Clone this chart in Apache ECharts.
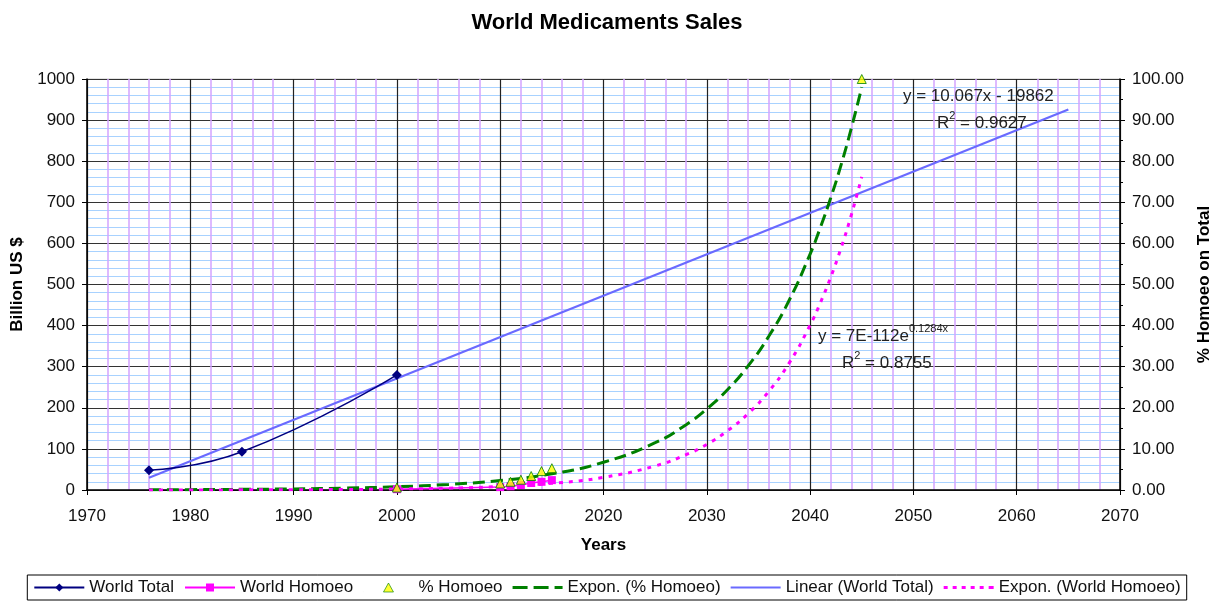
<!DOCTYPE html>
<html><head><meta charset="utf-8">
<script src="https://cdn.jsdelivr.net/npm/echarts@6/dist/echarts.min.js"></script>
<style>html,body{margin:0;padding:0;background:#fff}#c{width:1214px;height:604px}</style>
</head><body><div id="c"></div>
<script>
// ---- data ----
const worldTotalYears = [1976, 1985, 2000];
const worldTotalValues = [48, 93, 280];

const homoeoYears = [2000, 2010, 2011, 2012, 2013, 2014, 2015];
const homoeoValues = [2, 7, 9, 12, 17, 20, 24];

const pctYears = [2000, 2010, 2011, 2012, 2013, 2014, 2015, 2045];
const pctValues = [0.6, 1.6, 2.0, 2.5, 3.4, 4.6, 5.3, 100];

const linearYears = [1976, 2065];
const linearValues = [30, 926];

const expPctYears = [1976, 1980, 1985, 1990, 1995, 2000, 2005, 2010, 2015, 2020, 2025, 2028, 2030, 2032, 2034, 2036, 2038, 2040, 2041, 2042, 2043, 2044, 2045];
const expPctValues = [0.06, 0.09, 0.16, 0.27, 0.46, 0.79, 1.36, 2.3, 3.95, 6.75, 11.5, 15.9, 19.7, 24.4, 30.2, 37.4, 46.3, 57.4, 63.9, 71.1, 79.1, 88.1, 98];

const expHomYears = [1976, 1980, 1985, 1990, 1995, 2000, 2005, 2010, 2015, 2020, 2025, 2028, 2030, 2032, 2034, 2036, 2038, 2040, 2041, 2042, 2043, 2044, 2045];
const expHomValues = [0.11, 0.18, 0.34, 0.65, 1.2, 2.4, 4.5, 8.5, 16.2, 30.8, 58.5, 86, 111, 144, 186, 240, 310, 401, 456, 518, 589, 670, 762];

const leftTicks = {min: 0, max: 1000, interval: 100};
const rightTicks = {min: 0, max: 100, interval: 10};
const xTicks = {min: 1970, max: 2070, interval: 10};

const zip = (a, b) => a.map((v, i) => [v, b[i]]);
const FONT = 'Liberation Sans, Arial, sans-serif';

// legend key shapes
const ICON_DASH = 'path://M0,0h15v3h-15zM21,0h15v3h-15zM42,0h8v3h-8z';
const ICON_DOT = 'path://M0,0h4v3h-4zM9,0h4v3h-4zM18,0h4v3h-4zM27,0h4v3h-4zM36,0h4v3h-4zM45,0h5v3h-5z';
const ICON_LINE = 'path://M0,0h50v2h-50z';
const ICON_TRI = 'path://M0,10L0.01,10L0,9.99ZM25,1L30,10L20,10ZM50,10L49.99,10L50,9.99Z';

const chart = echarts.init(document.getElementById('c'), null, {renderer: 'canvas'});
chart.setOption({
  animation: false,
  backgroundColor: '#fff',
  textStyle: {fontFamily: FONT},
  title: {
    text: 'World Medicaments Sales', left: 'center', top: 7,
    textStyle: {fontFamily: FONT, fontSize: 22, fontWeight: 'bold', color: '#000'}
  },
  grid: {left: 87, right: 94, top: 79, bottom: 114, show: true, borderColor: '#c8c8c8', borderWidth: 1,
         containLabel: false, outerBoundsMode: 'none'},
  legend: {
    bottom: 4, left: 'center',
    data: [
      {name: 'World Total'},
      {name: 'World Homoeo'},
      {name: '% Homoeo', icon: ICON_TRI, itemStyle: {color: '#ffff00', borderColor: '#008000', borderWidth: 0.8}},
      {name: 'Expon. (% Homoeo)', icon: ICON_DASH, itemStyle: {color: '#008000', borderWidth: 0}},
      {name: 'Linear (World Total)', icon: ICON_LINE, itemStyle: {color: '#6a6aff', borderWidth: 0}},
      {name: 'Expon. (World Homoeo)', icon: ICON_DOT, itemStyle: {color: '#ff00ff', borderWidth: 0}}
    ],
    symbolKeepAspect: true,
    itemWidth: 50, itemHeight: 10, itemGap: 10,
    borderColor: '#000', borderWidth: 1, padding: [4, 6],
    textStyle: {fontFamily: FONT, fontSize: 17, color: '#111'}
  },
  xAxis: {
    type: 'value', min: xTicks.min, max: xTicks.max, interval: xTicks.interval,
    name: 'Years', nameLocation: 'middle', nameGap: 47,
    nameTextStyle: {fontFamily: FONT, fontSize: 17, fontWeight: 'bold', color: '#000'},
    axisLine: {show: true, lineStyle: {color: '#000', width: 1.5}},
    axisTick: {show: true, length: 5, lineStyle: {color: '#000'}},
    axisLabel: {fontFamily: FONT, fontSize: 17, color: '#111', margin: 18, formatter: v => String(v)},
    splitLine: {show: true, lineStyle: {color: '#222', width: 1.2}},
    minorTick: {show: false, splitNumber: 5},
    minorSplitLine: {show: true, lineStyle: {color: '#d4a4ff', width: 1.5}}
  },
  yAxis: [{
    type: 'value', min: leftTicks.min, max: leftTicks.max, interval: leftTicks.interval,
    name: 'Billion US $', nameLocation: 'middle', nameGap: 59, nameRotate: 90,
    nameTextStyle: {fontFamily: FONT, fontSize: 17, fontWeight: 'bold', color: '#000'},
    axisLine: {show: true, lineStyle: {color: '#000', width: 1.5}},
    axisTick: {show: true, length: 5, lineStyle: {color: '#000'}},
    axisLabel: {fontFamily: FONT, fontSize: 17, color: '#111', margin: 12, formatter: v => String(v)},
    splitLine: {show: true, lineStyle: {color: '#333', width: 1.2}},
    minorTick: {show: false, splitNumber: 5},
    minorSplitLine: {show: true, lineStyle: {color: '#a8d2ff', width: 1.2}}
  }, {
    type: 'value', position: 'right', min: rightTicks.min, max: rightTicks.max, interval: rightTicks.interval,
    name: '% Homoeo on Total', nameLocation: 'middle', nameGap: 76, nameRotate: 90,
    nameTextStyle: {fontFamily: FONT, fontSize: 17, fontWeight: 'bold', color: '#000'},
    axisLine: {show: true, lineStyle: {color: '#000', width: 1.5}},
    axisTick: {show: true, length: 5, lineStyle: {color: '#000'}},
    axisLabel: {fontFamily: FONT, fontSize: 17, color: '#111', margin: 12, formatter: v => v.toFixed(2)},
    splitLine: {show: false},
    minorTick: {show: true, splitNumber: 2, length: 3, lineStyle: {color: '#000'}},
    minorSplitLine: {show: false}
  }],
  series: [{
    name: 'Linear (World Total)', type: 'line', yAxisIndex: 0, symbol: 'none',
    data: zip(linearYears, linearValues),
    lineStyle: {color: '#6a6aff', width: 2.2}, itemStyle: {color: '#6a6aff'}, z: 3
  }, {
    name: 'Expon. (% Homoeo)', type: 'line', yAxisIndex: 1, symbol: 'none', smooth: true,
    data: zip(expPctYears, expPctValues),
    lineStyle: {color: '#008000', width: 3, type: [12, 6]}, itemStyle: {color: '#008000'}, z: 3
  }, {
    name: 'Expon. (World Homoeo)', type: 'line', yAxisIndex: 0, symbol: 'none', smooth: true,
    data: zip(expHomYears, expHomValues),
    lineStyle: {color: '#ff00ff', width: 3, type: [4, 6]}, itemStyle: {color: '#ff00ff'}, z: 3
  }, {
    name: 'World Total', type: 'line', yAxisIndex: 0, smooth: true,
    symbol: 'diamond', symbolSize: 10,
    data: zip(worldTotalYears, worldTotalValues),
    lineStyle: {color: '#000080', width: 1.5}, itemStyle: {color: '#000080'}, z: 4
  }, {
    name: 'World Homoeo', type: 'line', yAxisIndex: 0,
    symbol: 'rect', symbolSize: 8,
    data: zip(homoeoYears, homoeoValues),
    lineStyle: {color: '#ff00ff', width: 1.5}, itemStyle: {color: '#ff00ff'}, z: 4
  }, {
    name: '% Homoeo', type: 'scatter', yAxisIndex: 1,
    symbol: 'triangle', symbolSize: 9,
    data: zip(pctYears, pctValues),
    itemStyle: {color: '#ffff00', borderColor: '#008000', borderWidth: 1}, z: 5
  }],
  graphic: [{
    type: 'text', left: 903, top: 88, z: 10,
    style: {text: 'y = 10.067x - 19862', fontFamily: FONT, fontSize: 17, fill: '#222'}
  }, {
    type: 'text', left: 937, top: 110, z: 10,
    style: {text: '{a|R}{s|2}{a| = 0.9627}', fontFamily: FONT, fill: '#222',
      rich: {a: {fontSize: 17, fontFamily: FONT, fill: '#222', lineHeight: 22, verticalAlign: 'bottom'},
             s: {fontSize: 11, fontFamily: FONT, fill: '#222', verticalAlign: 'top', lineHeight: 22}}}
  }, {
    type: 'text', left: 818, top: 323, z: 10,
    style: {text: '{a|y = 7E-112e}{s|0.1284x}', fontFamily: FONT, fill: '#222',
      rich: {a: {fontSize: 17, fontFamily: FONT, fill: '#222', lineHeight: 22, verticalAlign: 'bottom'},
             s: {fontSize: 11, fontFamily: FONT, fill: '#222', verticalAlign: 'top', lineHeight: 22}}}
  }, {
    type: 'text', left: 842, top: 350, z: 10,
    style: {text: '{a|R}{s|2}{a| = 0.8755}', fontFamily: FONT, fill: '#222',
      rich: {a: {fontSize: 17, fontFamily: FONT, fill: '#222', lineHeight: 22, verticalAlign: 'bottom'},
             s: {fontSize: 11, fontFamily: FONT, fill: '#222', verticalAlign: 'top', lineHeight: 22}}}
  }]
});
</script></body></html>
